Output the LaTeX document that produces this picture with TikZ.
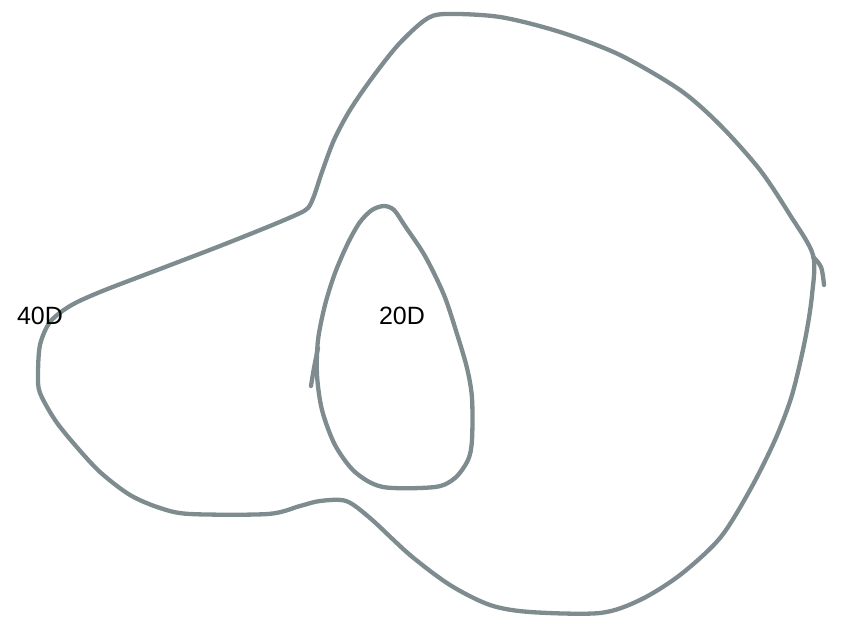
\documentclass[tikz,border=0pt]{standalone}
\usepackage{fontspec}
\setmainfont{Liberation Sans}
\begin{document}
\begin{tikzpicture}[x=1pt,y=-1pt,
  contour/.style={draw=contourgray,line width=4.3pt,line cap=round,line join=round},
  lbl/.style={font=\fontsize{25}{30}\selectfont,text=black,inner sep=0pt}]
\definecolor{contourgray}{HTML}{7F8C8F}
\useasboundingbox (0,0) rectangle (859,626);
% outer contour (40D)
\draw[contour] plot[smooth cycle,tension=0.5] coordinates {
 (813,255) (790,215) (760,170) (720,125) (680,90) (620,55) (560,32) (500,17) (445,14) (425,20)
 (398,45) (372,78) (350,110) (334,140) (322,172) (314,196) (308,208) (298,214)
 (270,226) (220,246) (160,269) (100,292) (70,306) (50,322) (40,345) (38,375) (40,393)
 (55,420) (75,445) (100,472) (130,495) (160,508) (190,514) (268,514) (300,506) (320,501)
 (346,501) (370,518) (410,555) (450,585) (490,605) (530,612) (600,613) (640,600) (680,575)
 (720,538) (750,490) (775,440) (792,395) (805,340) (812,295)};
\draw[contour] plot[smooth,tension=0.6] coordinates {(813,257) (821,267) (824,285)};
% inner contour (20D)
\draw[contour] plot[smooth cycle,tension=0.5] coordinates {
 (384,206) (372,210) (360,222) (348,243) (335,273) (325,305) (318,340) (317,375) (322,410)
 (335,445) (355,472) (383,487) (435,487) (455,478) (468,460) (472,440) (472,398) (467,368)
 (457,334) (444,295) (425,256) (405,226) (394,210)};
\draw[contour] plot[smooth,tension=0.6] coordinates {(318,348) (314,368) (311,386)};
\node[lbl] (l40) at (40,316) {40D};
\node[lbl] (l20) at (402,316) {20D};
\end{tikzpicture}
\end{document}
